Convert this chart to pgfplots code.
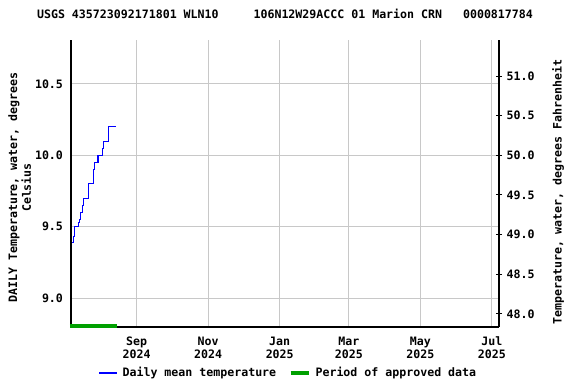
\documentclass[border=0pt]{standalone}
\usepackage{pgfplots}
\pgfplotsset{compat=1.18}
\usepackage{fontspec}
\setmainfont{DejaVu Sans Mono}
\definecolor{dblue}{RGB}{0,0,255}
\definecolor{dgreen}{RGB}{0,160,0}
\definecolor{gridgray}{RGB}{200,200,200}
\begin{document}
\begin{tikzpicture}[font=\fontsize{8.7}{9.4}\selectfont\bfseries]
\path[use as bounding box] (-53.25pt,-42.75pt) rectangle (378.75pt,245.25pt);
\begin{axis}[
  at={(0pt,0pt)}, anchor=south west,
  scale only axis, width=321pt, height=215.25pt,
  xmin=-56, xmax=309, ymin=8.797, ymax=10.808,
  axis y line*=left, axis x line*=bottom,
  axis line style={black, line width=0.9pt},
  xtick={0,61,122,181,242,303},
  xticklabels={Sep\\2024,Nov\\2024,Jan\\2025,Mar\\2025,May\\2025,Jul\\2025},
  xticklabel style={align=center, yshift=-4pt},
  ytick={9.0,9.5,10.0,10.5},
  yticklabels={9.0,9.5,10.0,10.5},
  yticklabel style={xshift=-2.5pt},
  major tick length=0pt,
  grid=major,
  major grid style={gridgray, line width=0.75pt},
  /pgf/number format/assume math mode=true,
  ylabel={DAILY Temperature, water, degrees\\Celsius},
  ylabel style={at={(axis description cs:-0.120,0.486)}, anchor=center, align=center,
    font=\fontsize{8.7}{10.2}\selectfont\bfseries},
  title={USGS 435723092171801 WLN10~~~~~106N12W29ACCC 01 Marion CRN~~~0000817784},
  title style={at={(0.5,1)}, anchor=base, yshift=10.2pt},
  clip=false,
  legend columns=2,
  legend image code/.code={\draw[#1] (0pt,0pt) -- (13.5pt,0pt); \path (15pt,0pt);},
  legend style={draw=none, fill=none, at={(0.509,-0.1603)}, anchor=center,
    /tikz/every even column/.append style={column sep=7pt},
    inner sep=0pt, row sep=0pt},
  legend cell align=left,
]
\addplot[dblue, line width=0.8pt, const plot, mark=none] coordinates {
(-55,9.39) (-54,9.43) (-53,9.50) (-52,9.50) (-51,9.50) (-50,9.53) (-49,9.55)
(-48,9.60) (-47,9.60) (-46,9.65) (-45,9.70) (-44,9.70) (-43,9.70) (-42,9.70)
(-41,9.80) (-40,9.80) (-39,9.80) (-38,9.80) (-37,9.90) (-36,9.95) (-35,9.95)
(-34,9.95) (-33,10.0) (-32,10.0) (-31,10.0) (-30,10.0) (-29,10.05) (-28,10.1)
(-27,10.1) (-26,10.1) (-25,10.1) (-24,10.2) (-23,10.2) (-22,10.2) (-21,10.2)
(-20,10.2) (-19,10.2) (-18,10.2)
};
\addlegendentry{Daily mean temperature}
\addplot[dgreen, line width=3pt, mark=none, forget plot] coordinates {(-57,8.804) (-17,8.804)};
\addlegendimage{dgreen, line width=3.5pt, mark=none}
\addlegendentry{Period of approved data}
\end{axis}
\begin{axis}[
  at={(0pt,0pt)}, anchor=south west,
  scale only axis, width=321pt, height=215.25pt,
  xmin=-56, xmax=309, ymin=47.8346, ymax=51.4544,
  axis y line*=right, axis x line=none,
  axis line style={black, line width=0.9pt},
  ytick={48.0,48.5,49.0,49.5,50.0,50.5,51.0},
  yticklabels={48.0,48.5,49.0,49.5,50.0,50.5,51.0},
  yticklabel style={xshift=0pt},
  major tick length=4.5pt,
  tick align=center,
  tick style={black, line width=0.75pt},
  /pgf/number format/assume math mode=true,
  ylabel={Temperature, water, degrees Fahrenheit},
  ylabel style={at={(axis description cs:1.1379,0.470)}, anchor=center},
]
\end{axis}
\end{tikzpicture}
\end{document}
